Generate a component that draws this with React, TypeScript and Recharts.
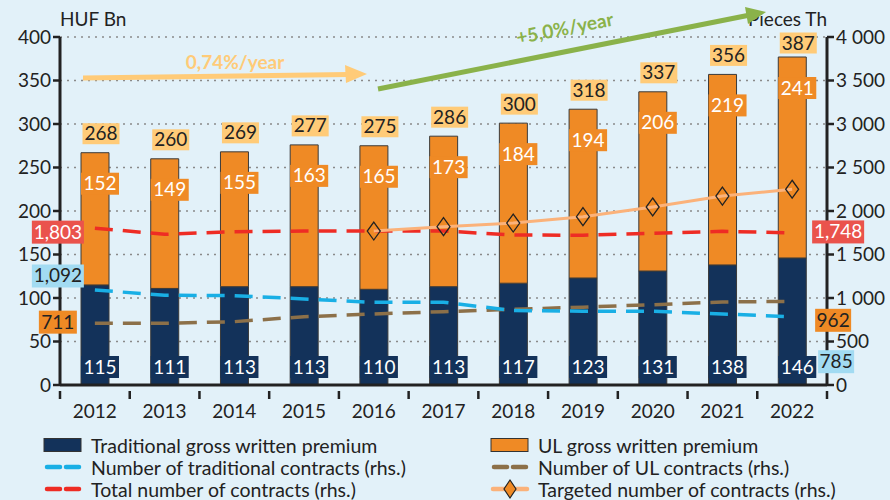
import React from 'react'
import {
    ComposedChart,
    Bar,
    Line,
    XAxis,
    YAxis,
    CartesianGrid,
    LabelList,
} from 'recharts'

const years = ['2012', '2013', '2014', '2015', '2016', '2017', '2018', '2019', '2020', '2021', '2022']
const tradPremium = [115, 111, 113, 113, 110, 113, 117, 123, 131, 138, 146]
// bar heights as drawn in the source (the 2022 UL bar is drawn shorter than its label)
const ulPremium = [152, 149, 155, 163, 165, 173, 184, 194, 206, 219, 231]
const ulLabels = ['152', '149', '155', '163', '165', '173', '184', '194', '206', '219', '241']
const totalLabels = ['268', '260', '269', '277', '275', '286', '300', '318', '337', '356', '387']
const tradContracts = [1092, 1031, 1027, 989, 950, 952, 855, 848, 847, 816, 785]
const ulContracts = [711, 709, 728, 785, 816, 843, 870, 895, 923, 954, 962]
const totalContracts = [1803, 1732, 1762, 1770, 1770, 1770, 1724, 1722, 1743, 1766, 1748]
const targetContracts = [null, null, null, null, 1770, 1820, 1862, 1935, 2046, 2172, 2250]
const leftTicks = [0, 50, 100, 150, 200, 250, 300, 350, 400]
const rightTicks = [0, 500, 1000, 1500, 2000, 2500, 3000, 3500, 4000]

const NAVY = '#13325A'
const ORANGE = '#EF8A25'
const PALE_ORANGE = '#FFCB78'
const RED = '#EE2C24'
const RED_BOX = '#EA534C'
const BLUE = '#19AFE5'
const BLUE_BOX = '#A2DBF2'
const BROWN = '#8C7049'
const TARGET = '#FBB27A'
const GREEN = '#8AB24A'
const BG = '#E2F1F9'
const TEXT = '#222'
const FONT = 'Lato, "Open Sans", sans-serif'

const W = 890
const H = 500
const PLOT_L = 60
const PLOT_R = 827
const STEP = (PLOT_R - PLOT_L) / years.length

const data = years.map((year, i) => ({
    year,
    trad: tradPremium[i],
    ul: ulPremium[i],
    tradC: tradContracts[i],
    ulC: ulContracts[i],
    totalC: totalContracts[i],
    target: targetContracts[i],
}))

const fmtSpace = (v: number) => String(v).replace(/\B(?=(\d{3})+(?!\d))/g, ' ')
const fmtComma = (v: number) => String(v).replace(/\B(?=(\d{3})+(?!\d))/g, ',')

function Box({ cx, cy, w, h, fill, color, text }: any) {
    return (
        <g>
            <rect x={cx - w / 2} y={cy - h / 2} width={w} height={h} fill={fill} />
            <text x={cx} y={cy + 6.5} textAnchor="middle" fontSize={19} fill={color} fontFamily={FONT}>
                {text}
            </text>
        </g>
    )
}

const tradLabel = (props: any) => {
    const { x, y, width, height, value } = props
    return <Box cx={x + width / 2 + 5} cy={y + height - 18} w={38} h={22} fill={NAVY} color="#fff" text={value} />
}

const ulLabel = (props: any) => {
    const { x, y, width, index } = props
    return <Box cx={x + width / 2 + 5} cy={y + 31} w={38} h={22} fill={ORANGE} color="#fff" text={ulLabels[index]} />
}

const totalLabel = (props: any) => {
    const { x, y, width, index } = props
    // keep clear of the "Pieces Th" title
    const cy = Math.max(y - 19, 43)
    return <Box cx={x + width / 2 + 6} cy={cy} w={37} h={21} fill={PALE_ORANGE} color={TEXT} text={totalLabels[index]} />
}

// first/last value boxes on the contract lines
const endLabel = (fill: string, color: string, dyL: number, dyR: number, dxR: number) => (props: any) => {
    const { x, y, index, value } = props
    if (index === 0) {
        const t = fmtComma(value)
        return <Box cx={x - 37} cy={y + dyL} w={t.length > 3 ? 52 : 38} h={23} fill={fill} color={color} text={t} />
    }
    if (index === years.length - 1) {
        const t = fmtComma(value)
        return <Box cx={x + dxR} cy={y + dyR} w={t.length > 3 ? 52 : 36} h={23} fill={fill} color={color} text={t} />
    }
    return null
}

const Diamond = (props: any) => {
    const { cx, cy, index } = props
    if (cx == null || cy == null || targetContracts[index] == null) return <g key={index} />
    return (
        <path
            key={index}
            d={`M${cx},${cy - 9} L${cx + 6.5},${cy} L${cx},${cy + 9} L${cx - 6.5},${cy} Z`}
            fill="none"
            stroke="#222"
            strokeWidth={1.3}
        />
    )
}

const XTick = (props: any) => {
    const { x, y, payload, index } = props
    const left = x - STEP / 2
    return (
        <g>
            <line x1={left} x2={left} y1={y - 2} y2={y + 6} stroke={TEXT} strokeWidth={2.5} />
            {index === years.length - 1 && (
                <line x1={x + STEP / 2} x2={x + STEP / 2} y1={y - 2} y2={y + 6} stroke={TEXT} strokeWidth={2.5} />
            )}
            <text x={x} y={y + 25} textAnchor="middle" fontSize={19} fill={TEXT} fontFamily={FONT}>
                {payload.value}
            </text>
        </g>
    )
}

function DashIcon({ color }: { color: string }) {
    return (
        <svg width={40} height={14} style={{ marginRight: 8 }}>
            <line x1={4} x2={17} y1={7} y2={7} stroke={color} strokeWidth={4.5} strokeLinecap="round" />
            <line x1={23} x2={36} y1={7} y2={7} stroke={color} strokeWidth={4.5} strokeLinecap="round" />
        </svg>
    )
}

function RectIcon({ color }: { color: string }) {
    return (
        <svg width={40} height={16} style={{ marginRight: 8 }}>
            <rect x={1} y={1.5} width={37} height={13} fill={color} stroke="#333" strokeWidth={1} />
        </svg>
    )
}

function TargetIcon() {
    return (
        <svg width={40} height={22} style={{ marginRight: 8 }}>
            <line x1={3} x2={37} y1={11} y2={11} stroke={TARGET} strokeWidth={4.5} strokeLinecap="round" />
            <path d="M20,2 L26,11 L20,20 L14,11 Z" fill={ORANGE} stroke="#222" strokeWidth={1.2} />
        </svg>
    )
}

const legendRows = [
    [<RectIcon color={NAVY} />, 'Traditional gross written premium', <RectIcon color={ORANGE} />, 'UL gross written premium'],
    [<DashIcon color={BLUE} />, 'Number of traditional contracts (rhs.)', <DashIcon color={BROWN} />, 'Number of UL contracts (rhs.)'],
    [<DashIcon color={RED} />, 'Total number of contracts (rhs.)', <TargetIcon />, 'Targeted number of contracts (rhs.)'],
]

export default function App() {
    return (
        <div style={{ position: 'absolute', left: 0, top: 0, width: W, height: H, background: BG, fontFamily: FONT, overflow: 'hidden' }}>
            <ComposedChart width={W} height={H} data={data} margin={{ top: 37, right: 0, left: 0, bottom: 85 }}>
                <CartesianGrid
                    yAxisId="left"
                    vertical={false}
                    stroke="#8a8a8a"
                    strokeDasharray="2 5"
                    strokeWidth={1.3}
                    horizontalValues={[50, 100, 150, 200, 250, 300, 350, 400]}
                />
                <XAxis
                    dataKey="year"
                    height={30}
                    interval={0}
                    axisLine={{ stroke: TEXT, strokeWidth: 3 }}
                    tickLine={false}
                    tick={<XTick />}
                />
                <YAxis
                    yAxisId="left"
                    width={60}
                    domain={[0, 400]}
                    ticks={leftTicks}
                    interval={0}
                    axisLine={{ stroke: TEXT, strokeWidth: 3 }}
                    tickLine={{ stroke: TEXT, strokeWidth: 2.5 }}
                    tickSize={7}
                    tick={{ fill: TEXT, fontSize: 19, fontFamily: FONT }}
                />
                <YAxis
                    yAxisId="right"
                    orientation="right"
                    width={63}
                    domain={[0, 4000]}
                    ticks={rightTicks}
                    interval={0}
                    axisLine={{ stroke: TEXT, strokeWidth: 3 }}
                    tickLine={{ stroke: TEXT, strokeWidth: 2.5 }}
                    tickSize={7}
                    tickFormatter={fmtSpace}
                    tick={{ fill: TEXT, fontSize: 19, fontFamily: FONT, textAnchor: 'start' }}
                />
                <Bar yAxisId="left" dataKey="trad" stackId="p" fill={NAVY} stroke="#3a3a3a" strokeWidth={1} barSize={28} isAnimationActive={false}>
                    <LabelList dataKey="trad" content={tradLabel} />
                </Bar>
                <Bar yAxisId="left" dataKey="ul" stackId="p" fill={ORANGE} stroke="#3a3a3a" strokeWidth={1} barSize={28} isAnimationActive={false}>
                    <LabelList dataKey="ul" content={ulLabel} />
                    <LabelList dataKey="ul" content={totalLabel} />
                </Bar>
                <Line yAxisId="right" dataKey="ulC" stroke={BROWN} strokeWidth={3.5} strokeDasharray="18 10" dot={false} isAnimationActive={false}>
                    <LabelList dataKey="ulC" content={endLabel(ORANGE, TEXT, -1, 19, 41)} />
                </Line>
                <Line yAxisId="right" dataKey="tradC" stroke={BLUE} strokeWidth={3.5} strokeDasharray="18 10" dot={false} isAnimationActive={false}>
                    <LabelList dataKey="tradC" content={endLabel(BLUE_BOX, TEXT, -14, 45, 44)} />
                </Line>
                <Line yAxisId="right" dataKey="totalC" stroke={RED} strokeWidth={3.5} strokeDasharray="18 10" dot={false} isAnimationActive={false}>
                    <LabelList dataKey="totalC" content={endLabel(RED_BOX, '#fff', 4, -1, 46)} />
                </Line>
                <Line yAxisId="right" dataKey="target" stroke={TARGET} strokeWidth={3} dot={<Diamond />} connectNulls={false} isAnimationActive={false} />
            </ComposedChart>

            <svg width={W} height={H} style={{ position: 'absolute', left: 0, top: 0, pointerEvents: 'none' }}>
                <text x={60} y={26} fontSize={19} fill={TEXT} fontFamily={FONT}>HUF Bn</text>
                <text x={827} y={26} fontSize={19} fill={TEXT} fontFamily={FONT} textAnchor="end">Pieces Th</text>
                <line x1={83} y1={78} x2={348} y2={74.5} stroke={PALE_ORANGE} strokeWidth={5} />
                <path d="M367,74 L345,65 L346,83 Z" fill={PALE_ORANGE} />
                <text x={235} y={69} fontSize={19} fontWeight={700} fill={PALE_ORANGE} fontFamily={FONT} textAnchor="middle">0,74%/year</text>
                <line x1={378} y1={89} x2={750} y2={15} stroke={GREEN} strokeWidth={5} />
                <path d="M766,12 L745,7 L748,24 Z" fill={GREEN} />
                <text x={565} y={35} fontSize={19} fontWeight={700} fill={GREEN} fontFamily={FONT} textAnchor="middle" transform="rotate(-11 565 29)">+5,0%/year</text>
            </svg>

            <div style={{ position: 'absolute', left: 43, top: 434, width: 847, color: TEXT, fontSize: 19.5 }}>
                {legendRows.map((row, i) => (
                    <div key={i} style={{ display: 'flex', height: 22, alignItems: 'center' }}>
                        <div style={{ width: 447, display: 'flex', alignItems: 'center' }}>
                            {row[0]}
                            <span>{row[1]}</span>
                        </div>
                        <div style={{ display: 'flex', alignItems: 'center' }}>
                            {row[2]}
                            <span>{row[3]}</span>
                        </div>
                    </div>
                ))}
            </div>
        </div>
    )
}
